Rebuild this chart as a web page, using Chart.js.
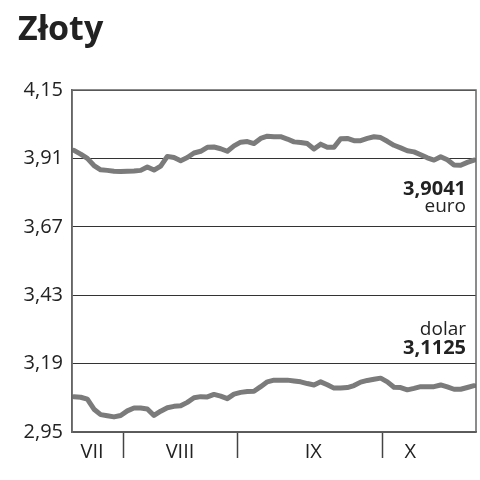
<!DOCTYPE html>
<html>
<head>
<meta charset="utf-8">
<script src="https://cdn.jsdelivr.net/npm/chart.js@4"></script>
<style>
  html, body { margin: 0; padding: 0; background: #fff; }
  #wrap { width: 480px; height: 480px; }
</style>
</head>
<body>
<div id="wrap"><canvas id="chart" width="480" height="480"></canvas></div>
<script>
// months on the x axis (positions in trading-day index units)
const months = ['VII', 'VIII', 'IX', 'X'];
const monthCenters = [2.7, 15.9, 35.9, 50.45];
const monthBounds = [7.36, 24.5, 46.25];

const yTicks = [2.95, 3.19, 3.43, 3.67, 3.91, 4.15];

// euro / PLN
const euro = [3.938, 3.925, 3.910, 3.885, 3.870, 3.868, 3.865, 3.864, 3.865, 3.866,
  3.868, 3.880, 3.869, 3.883, 3.917, 3.913, 3.902, 3.913, 3.929, 3.935,
  3.949, 3.950, 3.944, 3.935, 3.954, 3.967, 3.969, 3.962, 3.980, 3.988,
  3.986, 3.986, 3.978, 3.968, 3.966, 3.962, 3.943, 3.960, 3.949, 3.949,
  3.979, 3.980, 3.972, 3.972, 3.980, 3.986, 3.983, 3.970, 3.956, 3.947,
  3.937, 3.933, 3.923, 3.912, 3.904, 3.916, 3.905, 3.887, 3.886, 3.896,
  3.9041];

// dollar / PLN
const dolar = [3.074, 3.072, 3.065, 3.030, 3.011, 3.007, 3.003, 3.008, 3.024, 3.034,
  3.034, 3.031, 3.008, 3.023, 3.035, 3.040, 3.042, 3.054, 3.070, 3.074,
  3.073, 3.082, 3.076, 3.067, 3.083, 3.089, 3.092, 3.093, 3.109, 3.126,
  3.132, 3.132, 3.132, 3.129, 3.126, 3.120, 3.115, 3.126, 3.116, 3.104,
  3.104, 3.106, 3.113, 3.125, 3.131, 3.135, 3.139, 3.126, 3.107, 3.106,
  3.098, 3.103, 3.109, 3.109, 3.109, 3.115, 3.108, 3.100, 3.100, 3.106,
  3.1125];

// right-side captions: [text, y value, bold]
const captions = [
    ['3,9041', 3.803, true],
    ['euro', 3.740, false],
    ['dolar', 3.311, false],
    ['3,1125', 3.245, true]
];

const FONT = "'Open Sans', sans-serif";

const toPoints = arr => arr.map((v, i) => ({ x: i, y: v }));

// box around the plot + captions
const framePlugin = {
    id: 'frame',
    afterDatasetsDraw(chart) {
        const { ctx, chartArea: a, scales } = chart;
        ctx.save();
        ctx.strokeStyle = '#666';
        ctx.lineWidth = 1.5;
        ctx.strokeRect(a.left, a.top, a.right - a.left, a.bottom - a.top);

        ctx.fillStyle = '#222';
        ctx.textAlign = 'right';
        ctx.textBaseline = 'middle';
        captions.forEach(c => {
            ctx.font = (c[2] ? 'bold 20px ' : '19px ') + FONT;
            ctx.fillText(c[0], a.right - 10, scales.y.getPixelForValue(c[1]));
        });
        ctx.restore();
    }
};

const isBound = v => monthBounds.some(b => Math.abs(b - v) < 1e-6);

new Chart(document.getElementById('chart'), {
    type: 'line',
    data: {
        datasets: [
            { data: toPoints(euro) },
            { data: toPoints(dolar) }
        ]
    },
    options: {
        responsive: false,
        animation: false,
        parsing: false,
        layout: { padding: { left: 18, right: 4, top: 0, bottom: 0 } },
        elements: {
            line: {
                borderColor: '#7b7b7b',
                borderWidth: 5,
                tension: 0,
                borderJoinStyle: 'round',
                borderCapStyle: 'round'
            },
            point: { radius: 0 }
        },
        plugins: {
            legend: { display: false },
            tooltip: { enabled: false },
            title: {
                display: true,
                text: 'Złoty',
                align: 'start',
                color: '#222',
                font: { family: FONT, size: 34, weight: 'bold', lineHeight: 1.2 },
                padding: { top: 10, bottom: 39.2 }
            }
        },
        scales: {
            x: {
                type: 'linear',
                min: -0.3,
                max: 60.3,
                afterBuildTicks(scale) {
                    const vals = monthBounds.concat(monthCenters).sort((a, b) => a - b);
                    scale.ticks = vals.map(v => ({ value: v }));
                },
                afterFit(scale) { scale.height = 48; },
                grid: {
                    drawOnChartArea: false,
                    drawTicks: true,
                    tickLength: 26,
                    tickWidth: 1.5,
                    tickColor: ctx => (ctx.tick && isBound(ctx.tick.value)) ? '#444' : 'rgba(0,0,0,0)'
                },
                border: { display: true, color: '#444', width: 1.5 },
                ticks: {
                    autoSkip: false,
                    maxRotation: 0,
                    padding: -18,
                    color: '#222',
                    font: { family: FONT, size: 20 },
                    callback(value) {
                        const i = monthCenters.findIndex(c => Math.abs(c - value) < 1e-6);
                        return i >= 0 ? months[i] : '';
                    }
                }
            },
            y: {
                min: 2.95,
                max: 4.15,
                afterBuildTicks(scale) {
                    scale.ticks = yTicks.map(v => ({ value: v }));
                },
                afterFit(scale) { scale.width = 54; },
                grid: {
                    drawTicks: false,
                    color: '#333',
                    lineWidth: 1
                },
                border: { display: true, color: '#666', width: 1.5 },
                ticks: {
                    padding: 9,
                    color: '#222',
                    font: { family: FONT, size: 20 },
                    callback: v => v.toFixed(2).replace('.', ',')
                }
            }
        }
    },
    plugins: [framePlugin]
});
</script>
</body>
</html>
